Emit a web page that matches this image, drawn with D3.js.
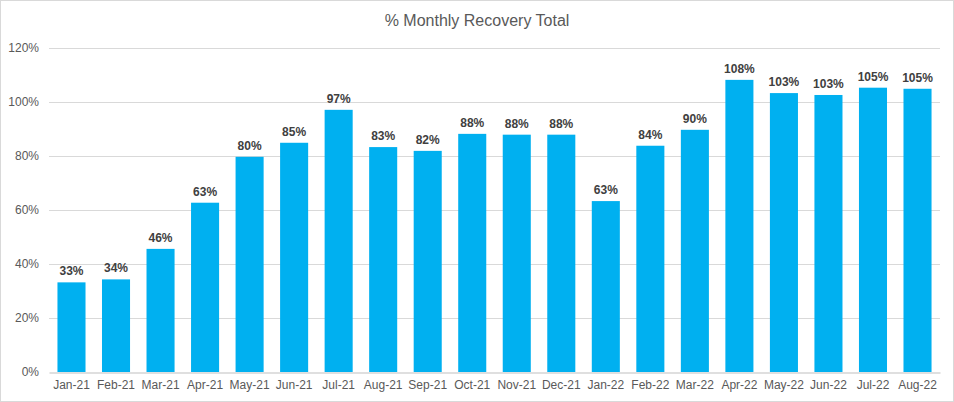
<!DOCTYPE html>
<html>
<head>
<meta charset="utf-8">
<script src="https://cdn.jsdelivr.net/npm/d3@7"></script>
<style>
  body { margin: 0; background: #fff; }
  text { font-family: "Liberation Sans", Arial, sans-serif; }
</style>
</head>
<body>
<div id="chart"></div>
<script>
const months = ["Jan-21", "Feb-21", "Mar-21", "Apr-21", "May-21", "Jun-21", "Jul-21", "Aug-21",
    "Sep-21", "Oct-21", "Nov-21", "Dec-21", "Jan-22", "Feb-22", "Mar-22", "Apr-22",
    "May-22", "Jun-22", "Jul-22", "Aug-22"];
const recovery = [33.2, 34.3, 45.6, 62.7, 79.7, 84.9, 97.1, 83.3, 81.9, 88.2, 87.9, 87.9,
    63.3, 83.8, 89.7, 108.2, 103.3, 102.6, 105.3, 104.9];
const yTicks = [0, 20, 40, 60, 80, 100, 120];

const W = 954, H = 402;
const margin = { top: 48, right: 14, bottom: 30, left: 49 },
    width = W - margin.left - margin.right,
    height = H - margin.top - margin.bottom;

const root = d3.select("#chart")
    .append("svg")
    .attr("width", W)
    .attr("height", H);

// outer frame
root.append("rect")
    .attr("x", 0.5).attr("y", 0.5)
    .attr("width", W - 1).attr("height", H - 1)
    .attr("fill", "#fff")
    .attr("stroke", "#d9d9d9");

root.append("text")
    .attr("x", W / 2)
    .attr("y", 26)
    .attr("text-anchor", "middle")
    .style("font-size", "16px")
    .style("fill", "#595959")
    .text("% Monthly Recovery Total");

const svg = root.append("g")
    .attr("transform", "translate(" + margin.left + "," + margin.top + ")");

var x = d3.scaleBand()
    .domain(months)
    .range([0, width])
    .paddingInner(0.37)
    .paddingOuter(0.19);

var y = d3.scaleLinear()
    .domain([0, 120])
    .range([height, 0]);

// gridlines
svg.append("g")
    .selectAll("line")
    .data(yTicks.filter(d => d > 0))
    .enter()
    .append("line")
    .attr("x1", 0).attr("x2", width)
    .attr("y1", d => Math.round(y(d)) + 0.5)
    .attr("y2", d => Math.round(y(d)) + 0.5)
    .attr("stroke", "#d9d9d9");

// Y axis
const yAxis = svg.append("g")
    .call(d3.axisLeft(y).tickValues(yTicks).tickSize(0).tickPadding(10).tickFormat(d => d + "%"));
yAxis.select(".domain").remove();
yAxis.selectAll("text")
    .style("font-size", "12px")
    .style("fill", "#595959");

// bars
svg.append("g")
    .selectAll("rect")
    .data(recovery)
    .enter()
    .append("rect")
    .attr("x", (d, i) => x(months[i]))
    .attr("y", d => y(d))
    .attr("width", x.bandwidth())
    .attr("height", d => y(0) - y(d))
    .attr("fill", "#00b0f0");

// data labels
svg.append("g")
    .selectAll("text")
    .data(recovery)
    .enter()
    .append("text")
    .attr("x", (d, i) => x(months[i]) + x.bandwidth() / 2)
    .attr("y", d => y(d) - 7)
    .attr("text-anchor", "middle")
    .style("font-size", "12px")
    .style("font-weight", "bold")
    .style("fill", "#404040")
    .text(d => Math.round(d) + "%");

// X axis
const xAxis = svg.append("g")
    .attr("transform", "translate(0," + (Math.round(height) + 0.5) + ")")
    .call(d3.axisBottom(x).tickSize(0).tickPadding(8));
xAxis.select(".domain").attr("stroke", "#bfbfbf");
xAxis.selectAll("text")
    .style("font-size", "12px")
    .style("fill", "#595959");
</script>
</body>
</html>
